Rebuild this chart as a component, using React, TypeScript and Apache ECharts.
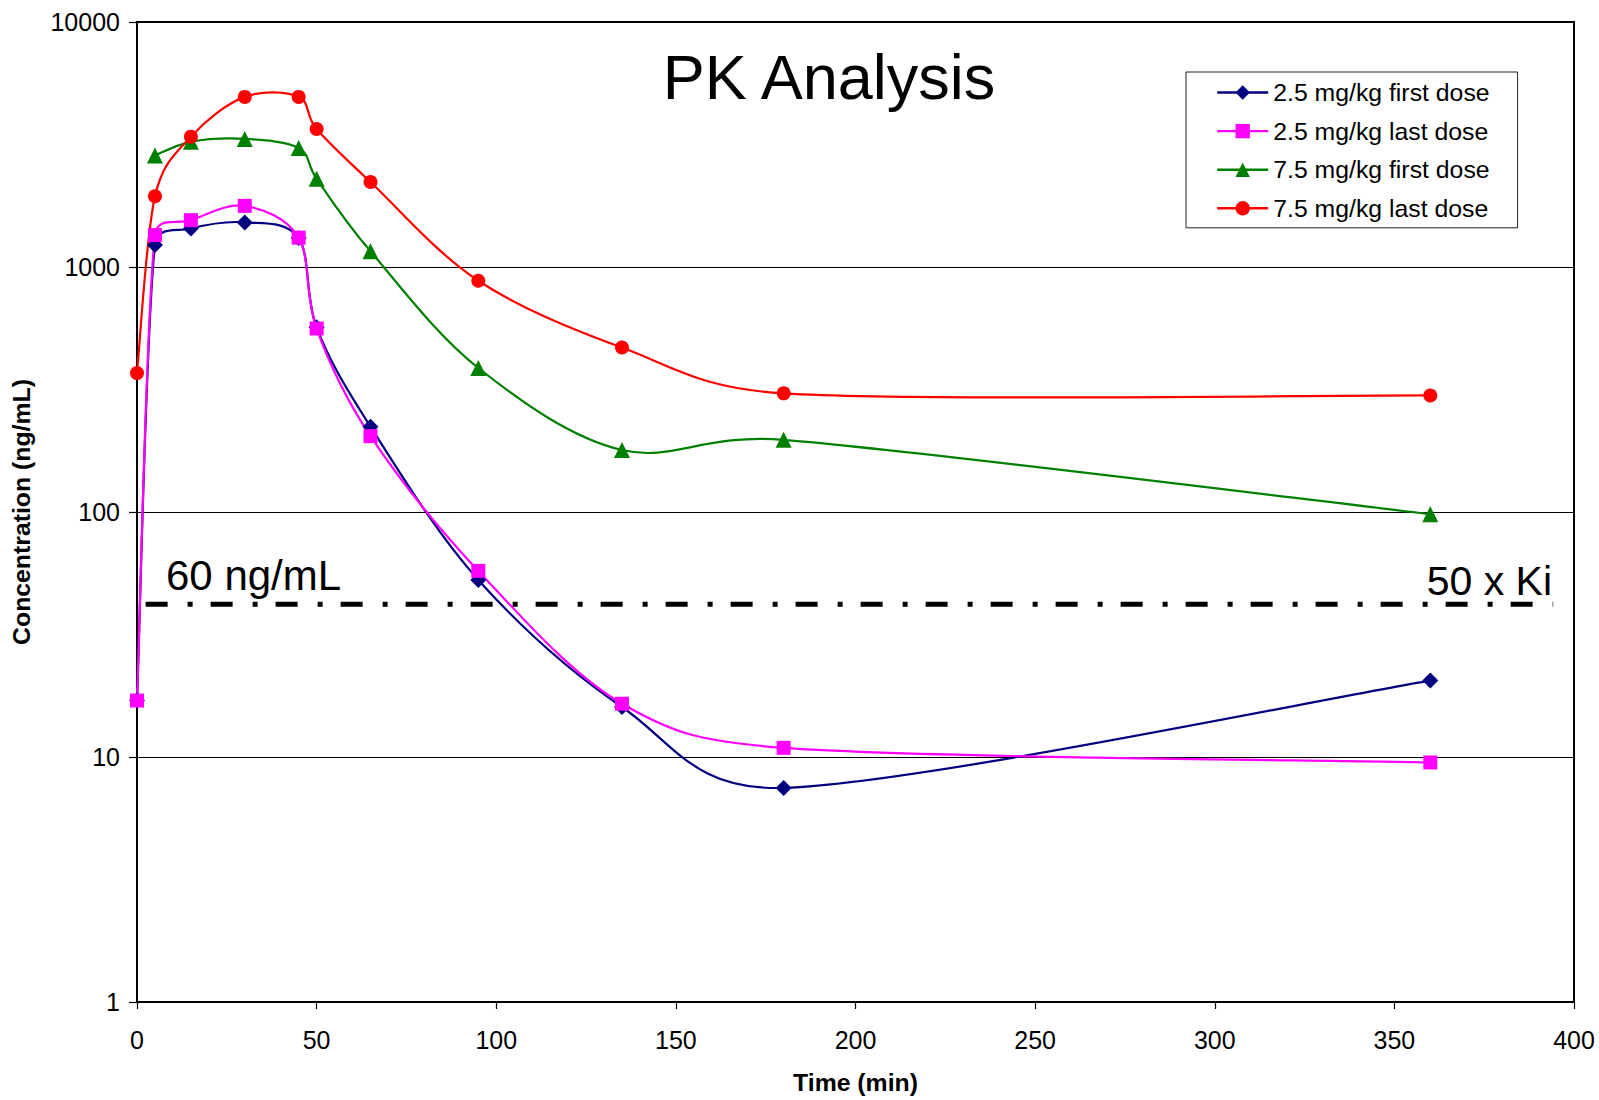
import React, { useEffect, useRef } from "react";
import * as echarts from "echarts";

const FONT = "'Liberation Sans', Arial, sans-serif";

const timesAll = [0, 5, 15, 30, 45, 50, 65, 95, 135, 180, 360];
const timesGreen = [5, 15, 30, 45, 50, 65, 95, 135, 180, 360];

const lowFirst = [17, 1230, 1436, 1521, 1313, 567, 223, 52.8, 16.0, 7.48, 20.5];
const lowLast = [17, 1350, 1553, 1776, 1318, 561, 204, 57.5, 16.5, 10.9, 9.5];
const highFirst = [2851, 3243, 3333, 3063, 2292, 1159, 387, 179, 197, 98];
const highLast = [369, 1944, 3405, 4947, 4947, 3658, 2223, 879, 469, 305, 299];

const seriesNames = [
  "2.5 mg/kg first dose",
  "2.5 mg/kg last dose",
  "7.5 mg/kg first dose",
  "7.5 mg/kg last dose",
];

const kiLineX = [2.4, 394.2];
const kiLineY = 42;

const xTicks = { min: 0, max: 400, interval: 50 };
const yRange = { min: 1, max: 10000 };

function pairs(xs: number[], ys: number[]) {
  return xs.map((x, i) => [x, ys[i]]);
}

// Excel-like smoothed curve (Catmull-Rom bezier, arms limited to half a segment)
function smoothPath(pts: number[][]) {
  const n = pts.length;
  let d = `M${pts[0][0]},${pts[0][1]}`;
  const clampArm = (t: number[], maxLen: number) => {
    const l = Math.hypot(t[0], t[1]);
    if (l > maxLen && l > 0) return [(t[0] * maxLen) / l, (t[1] * maxLen) / l];
    return t;
  };
  for (let i = 0; i < n - 1; i++) {
    const p0 = pts[Math.max(i - 1, 0)];
    const p1 = pts[i];
    const p2 = pts[i + 1];
    const p3 = pts[Math.min(i + 2, n - 1)];
    const seg = Math.hypot(p2[0] - p1[0], p2[1] - p1[1]);
    const t1 = clampArm([(p2[0] - p0[0]) / 6, (p2[1] - p0[1]) / 6], seg / 2);
    const t2 = clampArm([(p3[0] - p1[0]) / 6, (p3[1] - p1[1]) / 6], seg / 2);
    const c1 = [p1[0] + t1[0], p1[1] + t1[1]];
    const c2 = [p2[0] - t2[0], p2[1] - t2[1]];
    d += ` C${c1[0]},${c1[1]} ${c2[0]},${c2[1]} ${p2[0]},${p2[1]}`;
  }
  return d;
}

export default function App() {
  const ref = useRef<HTMLDivElement>(null);

  useEffect(() => {
    if (!ref.current) return;
    const chart = echarts.init(ref.current, null, { renderer: "svg" });

    const curveSeries = (name: string, xs: number[], ys: number[], color: string) => ({
      name: name + " curve",
      type: "custom",
      data: pairs(xs, ys),
      encode: { x: 0, y: 1 },
      silent: true,
      renderItem: (params: any, api: any) => {
        if (params.dataIndex !== 0) return null;
        const pts = xs.map((x, i) => api.coord([x, ys[i]]));
        return {
          type: "path",
          shape: { pathData: smoothPath(pts) },
          style: { stroke: color, lineWidth: 2.2, fill: "none", lineJoin: "round" },
        };
      },
    });

    const markerSeries = (
      name: string,
      xs: number[],
      ys: number[],
      color: string,
      symbol: string,
      size: number
    ) => ({
      name,
      type: "line",
      data: pairs(xs, ys),
      symbol,
      symbolSize: size,
      showAllSymbol: true,
      itemStyle: { color },
      lineStyle: { color, width: 2.2, opacity: 0 },
      emphasis: { disabled: true },
    });

    chart.setOption({
      animation: false,
      backgroundColor: "#ffffff",
      textStyle: { fontFamily: FONT },
      grid: {
        left: 137,
        right: 25,
        top: 22,
        bottom: 92,
        show: true,
        borderColor: "#000",
        borderWidth: 2,
        backgroundColor: "transparent",
      },
      legend: {
        data: seriesNames,
        orient: "vertical",
        left: 1186,
        top: 72,
        padding: [8, 28, 7, 30],
        itemGap: 13.6,
        itemWidth: 51,
        itemHeight: 18,
        borderColor: "#222",
        borderWidth: 1,
        backgroundColor: "#fff",
        lineStyle: { opacity: 1, width: 2.4 },
        textStyle: { fontFamily: FONT, fontSize: 24.8, color: "#000", lineHeight: 24 },
      },
      xAxis: {
        type: "value",
        min: xTicks.min,
        max: xTicks.max,
        interval: xTicks.interval,
        name: "Time (min)",
        nameLocation: "middle",
        nameGap: 68,
        nameTextStyle: { fontFamily: FONT, fontSize: 24.8, fontWeight: "bold", color: "#000" },
        axisLine: { show: true, onZero: false, lineStyle: { color: "#000", width: 2 } },
        axisTick: { show: true, inside: false, length: 7, lineStyle: { color: "#000", width: 1.2 } },
        axisLabel: { fontFamily: FONT, fontSize: 25, color: "#000", margin: 25 },
        splitLine: { show: false },
      },
      yAxis: {
        type: "log",
        logBase: 10,
        min: yRange.min,
        max: yRange.max,
        name: "Concentration (ng/mL)",
        nameLocation: "middle",
        nameGap: 103,
        nameRotate: 90,
        nameTextStyle: { fontFamily: FONT, fontSize: 24.8, fontWeight: "bold", color: "#000" },
        axisLine: { show: true, lineStyle: { color: "#000", width: 2 } },
        axisTick: { show: true, inside: false, length: 8, lineStyle: { color: "#000", width: 1.2 } },
        axisLabel: {
          fontFamily: FONT,
          fontSize: 25,
          color: "#000",
          margin: 17,
          formatter: (v: number) => String(Math.round(v)),
        },
        splitLine: { show: true, lineStyle: { color: "#000", width: 1 } },
        minorTick: { show: false },
      },
      series: [
        {
          name: "50 x Ki",
          type: "line",
          data: kiLineX.map((x) => [x, kiLineY]),
          symbol: "none",
          silent: true,
          lineStyle: { color: "#000", width: 5, type: [22, 20, 5, 18], cap: "butt" },
        },
        curveSeries(seriesNames[0], timesAll, lowFirst, "#000080"),
        markerSeries(seriesNames[0], timesAll, lowFirst, "#000080", "diamond", 16),
        curveSeries(seriesNames[1], timesAll, lowLast, "#FF00FF"),
        markerSeries(seriesNames[1], timesAll, lowLast, "#FF00FF", "rect", 14),
        curveSeries(seriesNames[2], timesGreen, highFirst, "#008000"),
        markerSeries(seriesNames[2], timesGreen, highFirst, "#008000", "triangle", 16),
        curveSeries(seriesNames[3], timesAll, highLast, "#FF0000"),
        markerSeries(seriesNames[3], timesAll, highLast, "#FF0000", "circle", 14),
      ],
      graphic: [
        {
          type: "text",
          x: 829,
          y: 77,
          style: {
            text: "PK Analysis",
            fontFamily: FONT,
            fontSize: 63,
            fill: "#000",
            align: "center",
            verticalAlign: "middle",
          },
        },
        {
          type: "text",
          x: 166,
          y: 575,
          style: {
            text: "60 ng/mL",
            fontFamily: FONT,
            fontSize: 42,
            fill: "#000",
            align: "left",
            verticalAlign: "middle",
          },
        },
        {
          type: "text",
          x: 1552,
          y: 581,
          style: {
            text: "50 x Ki",
            fontFamily: FONT,
            fontSize: 41,
            fill: "#000",
            align: "right",
            verticalAlign: "middle",
          },
        },
      ],
    });

    return () => chart.dispose();
  }, []);

  return (
    <div
      ref={ref}
      style={{ position: "absolute", left: 0, top: 0, width: 1599, height: 1100, background: "#fff" }}
    />
  );
}
